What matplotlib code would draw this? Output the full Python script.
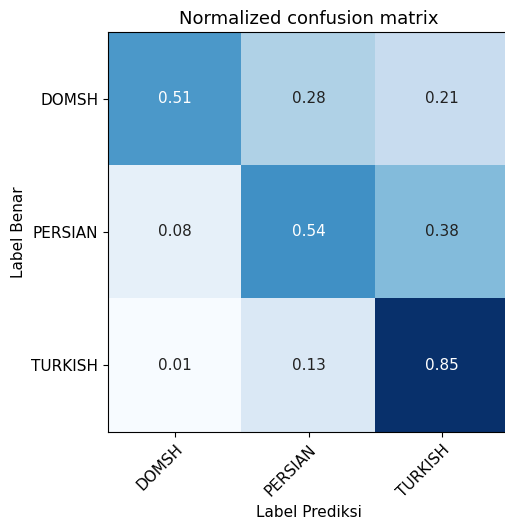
import numpy as np
import matplotlib
matplotlib.use('Agg')
import matplotlib.pyplot as plt

classes = ['DOMSH', 'PERSIAN', 'TURKISH']
cm = np.array([[0.51, 0.28, 0.21],
               [0.08, 0.54, 0.38],
               [0.01, 0.13, 0.85]])

fig = plt.figure(figsize=(5.05, 5.24), dpi=100)
ax = fig.add_axes([108/505, 92/524, 401/505, 400/524])
ax.imshow(cm, interpolation='nearest', cmap=plt.cm.Blues, aspect='auto')
ax.set_title('Normalized confusion matrix', fontsize=13)

ticks = np.arange(len(classes))
ax.set_xticks(ticks)
ax.set_xticklabels(classes, rotation=45, ha='right', rotation_mode='anchor',
                   fontsize=11)
ax.set_yticks(ticks)
ax.set_yticklabels(classes, fontsize=11)

thresh = cm.max() / 2.
for i in range(cm.shape[0]):
    for j in range(cm.shape[1]):
        ax.text(j, i, format(cm[i, j], '.2f'),
                ha='center', va='center', fontsize=11,
                color='white' if cm[i, j] > thresh else '#222222')

ax.set_ylabel('Label Benar', fontsize=11)
ax.set_xlabel('Label Prediksi', fontsize=11)

fig.savefig('out.png', dpi=100)
